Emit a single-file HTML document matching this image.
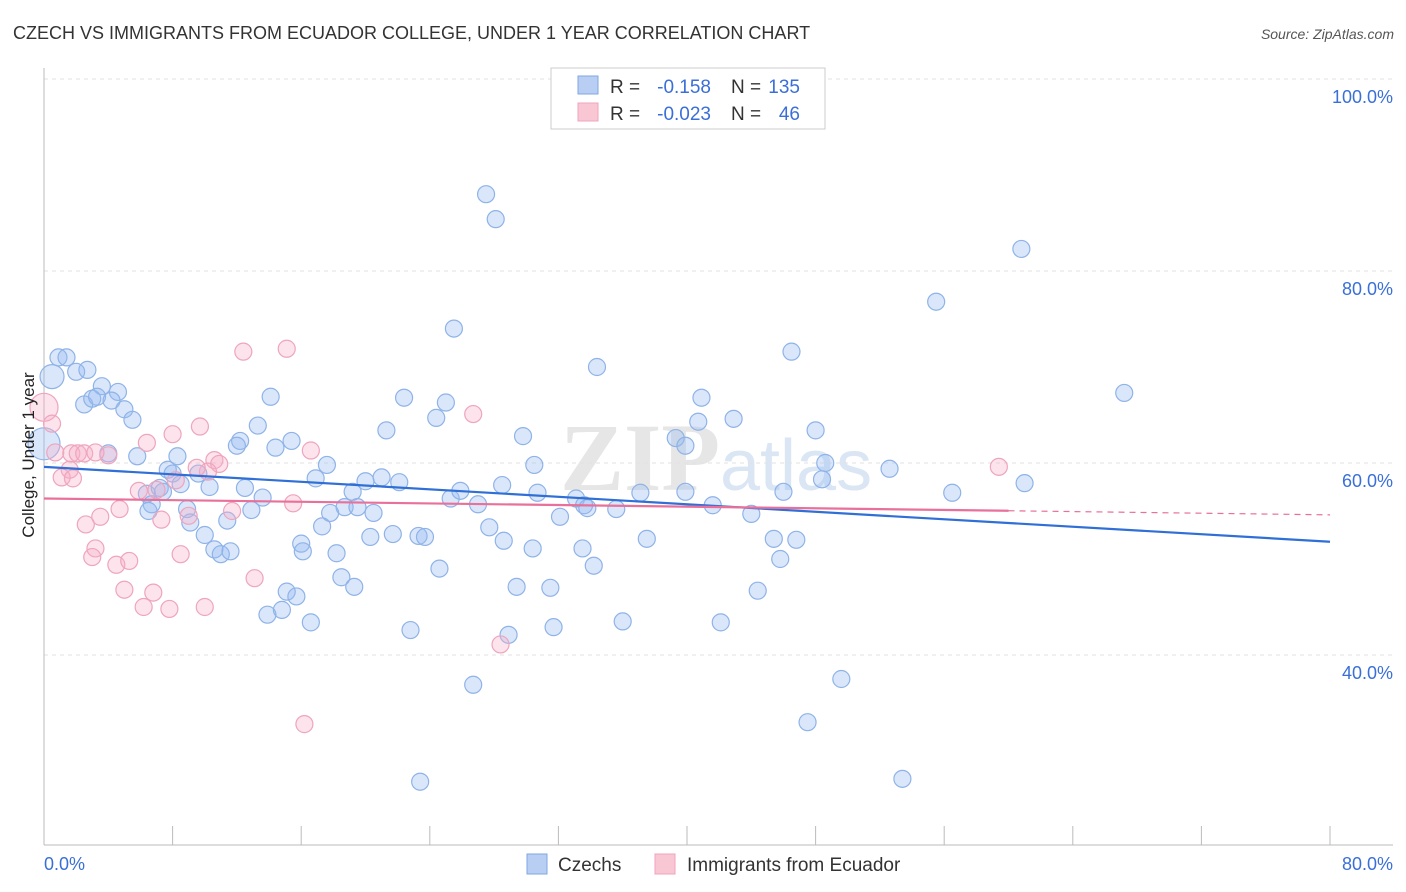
<!DOCTYPE html>
<html><head><meta charset="utf-8"><style>
body{margin:0;background:#fff;font-family:"Liberation Sans",sans-serif;}
svg{display:block}
</style></head><body>
<svg id="chart" width="1406" height="892">
<text x="13" y="39" font-size="18" fill="#333">CZECH VS IMMIGRANTS FROM ECUADOR COLLEGE, UNDER 1 YEAR CORRELATION CHART</text>
<text x="1394" y="39" font-size="14" fill="#555" font-style="italic" text-anchor="end">Source: ZipAtlas.com</text>
<text x="720" y="490" font-size="96" fill="#e6e6e6" text-anchor="end" font-family="Liberation Serif" font-weight="bold">ZIP</text>
<text x="720" y="490" font-size="72" fill="#dbe6f5">atlas</text>
<g id="grid"></g><g id="axes"></g><g id="marks"></g>
<text transform="translate(34,455) rotate(-90)" font-size="17" fill="#222" text-anchor="middle">College, Under 1 year</text>
<g>
<rect x="551" y="68" width="274" height="61" fill="#fff" stroke="#ccc"/>
<rect x="578" y="76" width="20" height="18" fill="#b8cff3" stroke="#7fa6e0"/>
<rect x="578" y="103" width="20" height="18" fill="#f9c6d4" stroke="#eea5bd"/>
<text x="610" y="93" font-size="19" fill="#333">R =</text>
<text x="711" y="93" font-size="19" fill="#3a6fd8" text-anchor="end">-0.158</text>
<text x="731" y="93" font-size="19" fill="#333">N =</text>
<text x="800" y="93" font-size="19" fill="#3a6fd8" text-anchor="end">135</text>
<text x="610" y="120" font-size="19" fill="#333">R =</text>
<text x="711" y="120" font-size="19" fill="#3a6fd8" text-anchor="end">-0.023</text>
<text x="731" y="120" font-size="19" fill="#333">N =</text>
<text x="800" y="120" font-size="19" fill="#3a6fd8" text-anchor="end">46</text>
</g>
<g>
<rect x="527" y="854" width="20" height="20" fill="#b8cff3" stroke="#7fa6e0"/>
<text x="558" y="871" font-size="19" fill="#333">Czechs</text>
<rect x="655" y="854" width="20" height="20" fill="#f9c6d4" stroke="#eea5bd"/>
<text x="687" y="871" font-size="19" fill="#333">Immigrants from Ecuador</text>
</g>
</svg>
<script>
const xTicks=[0,8,16,24,32,40,48,56,64,72,80];
const yTicks=[40,60,80,100];
const yTickLabels=["40.0%","60.0%","80.0%","100.0%"];
const czX=[27.5,28.1,60.8,55.5,25.5,46.5,34.4,67.2,0.9,1.4,2.0,2.7,3.6,4.6,2.5,3.0,3.3,4.2,5.0,5.5,14.1,13.3,22.4,25.0,24.4,21.3,40.9,42.9,40.7,39.3,39.9,48.0,29.8,15.4,12.2,14.4,12.0,4.0,5.8,8.3,7.7,8.0,8.5,10.3,9.6,17.6,16.9,12.5,13.6,12.9,6.4,7.2,7.4,6.7,6.5,8.9,9.1,11.4,10.0,10.6,11.0,11.6,16.0,16.1,18.2,17.3,17.8,18.7,19.2,19.5,20.0,21.0,22.1,20.5,20.3,21.7,23.3,23.7,25.3,25.9,27.0,27.7,28.6,30.4,28.5,30.5,30.7,32.1,33.1,33.6,33.8,35.6,37.1,37.5,33.5,34.2,24.6,18.5,19.3,15.1,15.7,13.9,14.8,16.6,22.8,29.4,31.5,28.9,31.7,36.0,26.7,23.4,39.9,41.6,44.0,46.0,45.4,46.8,48.6,48.4,45.8,44.4,42.1,49.6,47.5,53.4,52.6,56.5,61.0];
const czY=[88.0,85.4,82.3,76.8,74.0,71.6,70.0,67.3,71.0,71.0,69.5,69.7,68.0,67.4,66.1,66.7,66.9,66.5,65.6,64.5,66.9,63.9,66.8,66.3,64.7,63.4,66.8,64.6,64.3,62.6,61.8,63.4,62.8,62.3,62.3,61.6,61.8,61.0,60.7,60.7,59.3,58.9,57.8,57.5,58.9,59.8,58.4,57.4,56.4,55.1,56.8,57.4,57.0,55.7,55.0,55.2,53.8,54.0,52.5,51.0,50.5,50.8,51.6,50.8,50.6,53.4,54.8,55.4,57.0,55.4,58.1,58.5,58.0,54.8,52.3,52.6,52.4,52.3,56.3,57.1,55.7,53.3,51.9,51.1,57.7,59.8,56.9,54.4,56.3,55.6,55.3,55.2,56.9,52.1,51.1,49.3,49.0,48.1,47.1,46.6,46.1,44.2,44.7,43.4,42.6,47.1,47.0,42.1,42.9,43.5,36.9,26.8,57.0,55.6,54.7,57.0,52.1,52.0,60.0,58.3,50.0,46.7,43.4,37.5,33.0,27.1,59.4,56.9,57.9];
const czBigX=[0.0,0.5];
const czBigY=[62.0,69.0];
const ecX=[0.0,0.5,0.7,1.7,2.1,2.5,1.6,1.1,1.8,4.0,6.4,8.0,9.7,10.6,10.9,10.2,9.5,5.9,4.7,3.5,2.6,3.2,3.0,4.5,5.3,5.0,6.8,6.2,7.8,10.0,8.5,9.0,7.3,11.7,13.1,12.4,15.1,16.6,15.5,26.7,28.4,16.2,59.4,7.0,8.2,3.2];
const ecY=[65.8,64.1,61.1,61.0,61.0,61.0,59.3,58.5,58.4,60.8,62.1,63.0,63.8,60.3,59.9,59.1,59.5,57.1,55.2,54.4,53.6,51.1,50.2,49.4,49.8,46.8,46.5,45.0,44.8,45.0,50.5,54.5,54.1,55.0,48.0,71.6,71.9,61.3,55.8,65.1,41.1,32.8,59.6,57.2,58.2,61.1];
const czTrend=[59.6,51.8];
const ecTrend=[56.3,54.6];
const ecTrendSolidEnd=60;

const NS="http://www.w3.org/2000/svg";
const X=v=>44+v*16.075, Y=v=>463-(v-60)*9.6;
function mk(parent,tag,attrs){const e=document.createElementNS(NS,tag);for(const k in attrs)e.setAttribute(k,attrs[k]);document.getElementById(parent).appendChild(e);return e;}
yTicks.forEach((t,i)=>{
 const l=mk('grid','line',{x1:44,x2:1393,y1:Y(t),y2:Y(t),stroke:'#e2e2e2','stroke-dasharray':'4,4'});
 
 
 const tx=mk('grid','text',{x:1393,y:Y(t)+24,'font-size':18,fill:'#3a6fd8','text-anchor':'end'});
 tx.textContent=yTickLabels[i];
 
 
});
const ax=mk('axes','line',{x1:44,x2:1393,y1:845,y2:845,stroke:'#bbb'});


const ay=mk('axes','line',{x1:44,x2:44,y1:68,y2:845,stroke:'#bbb'});


xTicks.forEach(t=>{const l=mk('axes','line',{x1:X(t),x2:X(t),y1:826,y2:845,stroke:'#bbb'});
 
 });
const x0=mk('axes','text',{x:44,y:870,'font-size':18,fill:'#3a6fd8'});x0.textContent='0.0%';


const x1=mk('axes','text',{x:1393,y:870,'font-size':18,fill:'#3a6fd8','text-anchor':'end'});x1.textContent='80.0%';


czBigX.forEach((v,i)=>{
 const c=mk('marks','circle',{cx:X(v),cy:Y(czBigY[i]),r:i===0?16:12,fill:'rgba(150,185,240,0.35)',stroke:'#8fb3e8','stroke-width':1.2});
 
 });
czX.forEach((v,i)=>{
 const c=mk('marks','circle',{cx:X(v),cy:Y(czY[i]),r:8.5,fill:'rgba(150,185,240,0.35)',stroke:'#8fb3e8','stroke-width':1.2});
 
 });
ecX.forEach((v,i)=>{const r=i===0?14:8.5;
 const c=mk('marks','circle',{cx:X(v),cy:Y(ecY[i]),r:r,fill:'rgba(245,175,200,0.35)',stroke:'#eea5bd','stroke-width':1.2});
 
 });
const bt=mk('marks','line',{x1:X(0),y1:Y(czTrend[0]),x2:X(80),y2:Y(czTrend[1]),stroke:'#2f6fd6','stroke-width':2.2});


const ym=ecTrend[0]+(ecTrend[1]-ecTrend[0])*ecTrendSolidEnd/80;
const pt=mk('marks','line',{x1:X(0),y1:Y(ecTrend[0]),x2:X(ecTrendSolidEnd),y2:Y(ym),stroke:'#e8709a','stroke-width':2.2});


const pd=mk('marks','line',{x1:X(ecTrendSolidEnd),y1:Y(ym),x2:X(80),y2:Y(ecTrend[1]),stroke:'#e8709a','stroke-width':1.2,'stroke-dasharray':'6,5'});


</script>
</body></html>
